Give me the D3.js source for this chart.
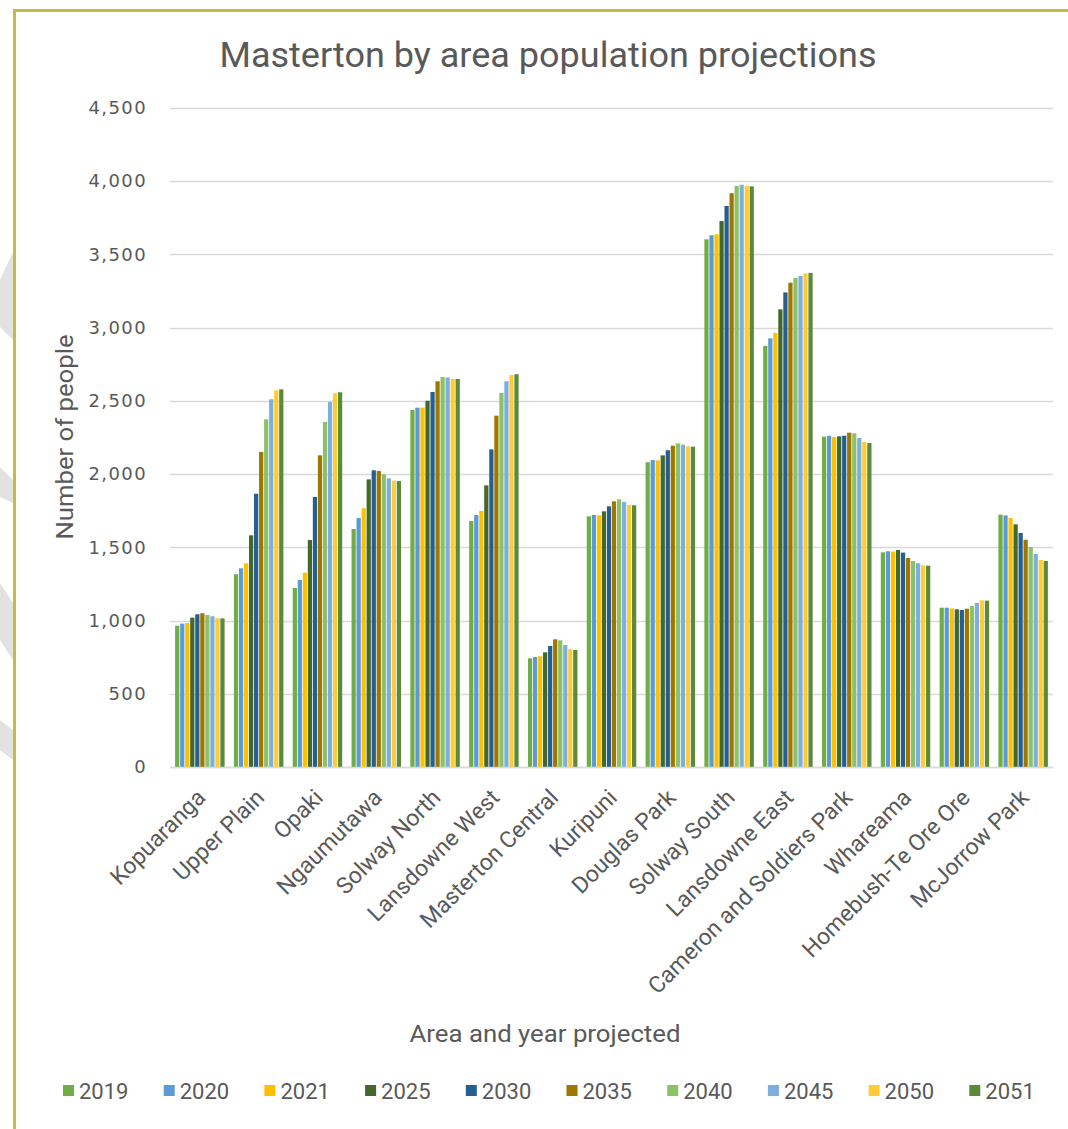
<!DOCTYPE html>
<html>
<head>
<meta charset="utf-8">
<script src="https://cdn.jsdelivr.net/npm/d3@7"></script>
<style>
  html, body { margin: 0; padding: 0; background: #fff; }
  svg { display: block; }
</style>
</head>
<body>
<svg id="chart" width="1068" height="1129"></svg>
<script>
const categories = ["Kopuaranga", "Upper Plain", "Opaki", "Ngaumutawa", "Solway North", "Lansdowne West",
  "Masterton Central", "Kuripuni", "Douglas Park", "Solway South", "Lansdowne East",
  "Cameron and Soldiers Park", "Whareama", "Homebush-Te Ore Ore", "McJorrow Park"];
const years = ["2019", "2020", "2021", "2025", "2030", "2035", "2040", "2045", "2050", "2051"];
const yearColors = ["#70AD47", "#5B9BD5", "#FFC000", "#43682B", "#255E91", "#9E7700", "#8CC168", "#7CAFDD", "#FFCD33", "#5A8A3A"];
const s2019 = [965, 1316, 1222, 1625, 2438, 1680, 742, 1712, 2081, 3603, 2875, 2256, 1466, 1088, 1723];
const s2020 = [979, 1357, 1277, 1700, 2454, 1721, 751, 1721, 2096, 3631, 2927, 2262, 1473, 1088, 1718];
const s2021 = [983, 1391, 1327, 1767, 2454, 1748, 756, 1719, 2094, 3638, 2964, 2253, 1471, 1083, 1700];
const s2025 = [1020, 1582, 1550, 1964, 2501, 1923, 783, 1746, 2128, 3728, 3125, 2258, 1482, 1077, 1657];
const s2030 = [1043, 1866, 1844, 2026, 2561, 2169, 826, 1780, 2163, 3831, 3241, 2262, 1464, 1072, 1598];
const s2035 = [1050, 2151, 2128, 2021, 2634, 2399, 872, 1814, 2194, 3918, 3307, 2283, 1427, 1081, 1552];
const s2040 = [1038, 2374, 2356, 1999, 2663, 2554, 865, 1828, 2210, 3967, 3339, 2279, 1407, 1099, 1502];
const s2045 = [1029, 2511, 2492, 1971, 2660, 2634, 833, 1810, 2201, 3976, 3353, 2247, 1391, 1120, 1455];
const s2050 = [1017, 2572, 2552, 1955, 2650, 2677, 806, 1789, 2190, 3967, 3371, 2219, 1377, 1138, 1414];
const s2051 = [1015, 2579, 2559, 1953, 2650, 2682, 799, 1787, 2187, 3965, 3374, 2212, 1375, 1136, 1407];
const seriesValues = [s2019, s2020, s2021, s2025, s2030, s2035, s2040, s2045, s2050, s2051];
const yTicks = [0, 500, 1000, 1500, 2000, 2500, 3000, 3500, 4000, 4500];

const title = "Masterton by area population projections";
const yTitle = "Number of people";
const xTitle = "Area and year projected";

const svg = d3.select("#chart");
const textColor = "#595959";
const gridColor = "#D9D9D9";

// decorative stripes at far left
const stripes = [
  [[0,280],[13,252],[13,340],[0,327]],
  [[0,467],[13,480],[13,503],[0,497]],
  [[0,583],[13,603],[13,660],[0,640]],
  [[0,720],[13,730],[13,760],[0,750]]
];
svg.selectAll("polygon.stripe").data(stripes).join("polygon")
  .attr("class", "stripe")
  .attr("points", d => d.map(p => p.join(",")).join(" "))
  .attr("fill", "#E2E2E2");

// border
svg.append("rect").attr("x", 13).attr("y", 9).attr("width", 1055).attr("height", 3).attr("fill", "#C2BD47");
svg.append("rect").attr("x", 13).attr("y", 9).attr("width", 3).attr("height", 1120).attr("fill", "#C2BD47");

const plotLeft = 170, plotRight = 1053;
const y = d3.scaleLinear().domain([0, 4500]).range([767, 108]);
const x = d3.scaleBand().domain(categories).range([plotLeft, plotRight])
  .paddingInner(0.145).paddingOuter(0.08);
const xs = d3.scaleBand().domain(years).range([0, x.bandwidth()]);

// gridlines
svg.append("g").selectAll("line").data(yTicks).join("line")
  .attr("x1", plotLeft).attr("x2", plotRight)
  .attr("y1", d => Math.round(y(d)) + 0.5).attr("y2", d => Math.round(y(d)) + 0.5)
  .attr("stroke", gridColor).attr("stroke-width", 1.5);

// y axis labels
const yAxis = d3.axisLeft(y).tickValues(yTicks).tickFormat(d3.format(",")).tickSize(0).tickPadding(0);
const yg = svg.append("g").attr("transform", "translate(147,0)").call(yAxis);
yg.select(".domain").remove();
yg.selectAll("text")
  .attr("fill", textColor)
  .style("font-family", "DejaVu Sans, sans-serif")
  .style("font-size", "18px")
  .style("letter-spacing", "1.4px");

// bars
const groups = svg.append("g").selectAll("g").data(years).join("g")
  .attr("fill", (d, i) => yearColors[i]);
groups.each(function(yr, i) {
  d3.select(this).selectAll("rect").data(seriesValues[i]).join("rect")
    .attr("x", (v, j) => x(categories[j]) + xs(yr) + 0.4)
    .attr("width", xs.bandwidth() - 0.8)
    .attr("y", v => y(v))
    .attr("height", v => y(0) - y(v));
});

// baseline
svg.append("line").attr("x1", plotLeft).attr("x2", plotRight)
  .attr("y1", 767.5).attr("y2", 767.5).attr("stroke", gridColor).attr("stroke-width", 1.5);

// x axis labels
const xAxis = d3.axisBottom(x).tickSize(0).tickPadding(0);
const xg = svg.append("g").attr("transform", "translate(0,767)").call(xAxis);
xg.select(".domain").remove();
xg.selectAll("text")
  .attr("fill", textColor)
  .attr("text-anchor", "end")
  .attr("dy", null)
  .attr("y", null)
  .attr("transform", "translate(7,32) rotate(-45)")
  .style("font-family", "Roboto, sans-serif")
  .style("font-size", "23px");

// title
svg.append("text").attr("x", 548).attr("y", 67).attr("text-anchor", "middle")
  .attr("textLength", 657).attr("lengthAdjust", "spacingAndGlyphs")
  .attr("fill", textColor)
  .style("font-family", "Roboto, sans-serif").style("font-size", "35px")
  .text(title);

// axis titles
svg.append("text").attr("transform", "translate(73,437) rotate(-90)").attr("text-anchor", "middle")
  .attr("textLength", 205).attr("lengthAdjust", "spacingAndGlyphs")
  .attr("fill", textColor)
  .style("font-family", "Roboto, sans-serif").style("font-size", "24px")
  .text(yTitle);
svg.append("text").attr("x", 545).attr("y", 1042).attr("text-anchor", "middle")
  .attr("textLength", 271).attr("lengthAdjust", "spacingAndGlyphs")
  .attr("fill", textColor)
  .style("font-family", "Roboto, sans-serif").style("font-size", "23px")
  .text(xTitle);

// legend
const legendX0 = 63, legendStep = 100.7, legendY = 1091;
const lg = svg.append("g").selectAll("g").data(years).join("g")
  .attr("transform", (d, i) => `translate(${legendX0 + i * legendStep},${legendY})`);
lg.append("rect").attr("x", 0).attr("y", -6).attr("width", 11).attr("height", 11)
  .attr("fill", (d, i) => yearColors[i]);
lg.append("text").attr("x", 16).attr("y", 0).attr("dy", "0.36em")
  .attr("fill", textColor)
  .style("font-family", "Roboto, sans-serif").style("font-size", "22px")
  .text(d => d);
</script>
</body>
</html>
